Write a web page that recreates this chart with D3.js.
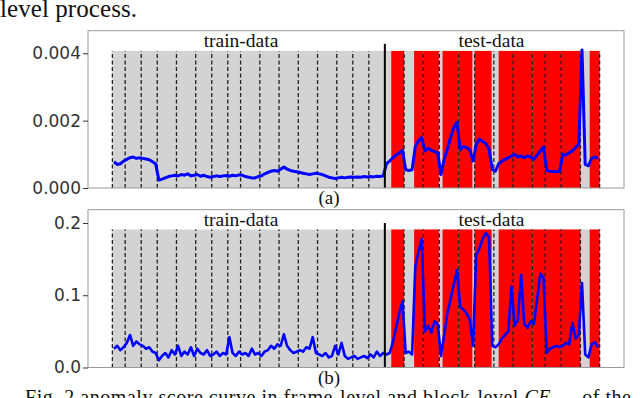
<!DOCTYPE html>
<meta charset='utf-8'>
<style>
    body { margin: 0; background: #fff; }
    .serif { font-family: 'Liberation Serif', 'Times New Roman', serif; fill: #111; }
    .tick text { font-family: 'DejaVu Sans', sans-serif; font-size: 17px; fill: #333; }
    .tick line { stroke: #333; }
    .domain { display: none; }
</style>

<svg width="640" height="398"></svg>
<script src="https://d3js.org/d3.v7.min.js"></script>

<script>

// UCSD Ped2: frames per video
var trainLengths = [120, 150, 150, 180, 180, 150, 150, 120, 180, 180, 180, 180, 180, 150, 150, 150];
var testLengths  = [180, 180, 150, 180, 150, 180, 180, 180, 120, 150, 180, 180];

// abnormal frames in each test video (first, last)
var anomalyRanges = [[61, 180], [95, 180], [1, 146], [31, 180], [1, 129], [1, 159],
                     [46, 180], [1, 180], [1, 120], [1, 150], [1, 180], [88, 180]];

// scores, one value per 30 frames
var binFrames = 30;

var frameScore = [
    0.00078, 0.00070, 0.00072, 0.00080,
    0.00085, 0.00090, 0.00092, 0.00088, 0.00090,
    0.00088, 0.00086, 0.00084, 0.00078, 0.00072,
    0.00024, 0.00026, 0.00030, 0.00034, 0.00036, 0.00038,
    0.00036, 0.00040, 0.00038, 0.00042, 0.00036, 0.00038,
    0.00040, 0.00035, 0.00038, 0.00034, 0.00032,
    0.00034, 0.00036, 0.00034, 0.00036, 0.00037,
    0.00035, 0.00038, 0.00036, 0.00039,
    0.00038, 0.00034, 0.00032, 0.00030, 0.00030, 0.00034,
    0.00036, 0.00042, 0.00046, 0.00050, 0.00052, 0.00050,
    0.00056, 0.00062, 0.00056, 0.00052, 0.00050, 0.00048,
    0.00046, 0.00044, 0.00042, 0.00040, 0.00042, 0.00044,
    0.00042, 0.00040, 0.00036, 0.00032, 0.00030, 0.00028,
    0.00030, 0.00032, 0.00030, 0.00032, 0.00033,
    0.00032, 0.00033, 0.00032, 0.00034, 0.00033,
    0.00034, 0.00033, 0.00035, 0.00034, 0.00036,
    // test
    0.00072, 0.00080, 0.00090, 0.00098, 0.00104, 0.00112,
    0.00054, 0.00052, 0.00054, 0.00123, 0.00140, 0.00150,
    0.00110, 0.00118, 0.00112, 0.00108, 0.00104,
    0.00040, 0.00085, 0.00115, 0.00150, 0.00180, 0.00195,
    0.00113, 0.00123, 0.00120, 0.00113, 0.00080,
    0.00130, 0.00145, 0.00138, 0.00132, 0.00115, 0.00055,
    0.00050, 0.00072, 0.00080, 0.00085, 0.00090, 0.00095,
    0.00100, 0.00092, 0.00095, 0.00090, 0.00095, 0.00092,
    0.00085, 0.00098, 0.00110, 0.00122,
    0.00052, 0.00050, 0.00049, 0.00048, 0.00050,
    0.00100, 0.00098, 0.00105, 0.00110, 0.00120, 0.00130,
    0.00410, 0.00070, 0.00066, 0.00088, 0.00092, 0.00088
];

var blockScore = [
    0.026, 0.030, 0.024, 0.028,
    0.034, 0.045, 0.030, 0.036, 0.032,
    0.030, 0.026, 0.028, 0.022, 0.020,
    0.010, 0.016, 0.020, 0.014, 0.024, 0.018,
    0.030, 0.016, 0.022, 0.018, 0.028, 0.016,
    0.026, 0.020, 0.018, 0.024, 0.016,
    0.018, 0.022, 0.016, 0.020, 0.018,
    0.042, 0.020, 0.016, 0.022,
    0.018, 0.020, 0.016, 0.026, 0.018, 0.020,
    0.016, 0.022, 0.024, 0.030, 0.026, 0.032,
    0.030, 0.046, 0.030, 0.024, 0.020, 0.022,
    0.024, 0.022, 0.028, 0.026, 0.042, 0.020,
    0.018, 0.016, 0.020, 0.014, 0.016, 0.030,
    0.018, 0.034, 0.016, 0.012, 0.014,
    0.016, 0.012, 0.014, 0.016, 0.013,
    0.018, 0.014, 0.022, 0.016, 0.020,
    // test
    0.018, 0.020, 0.035, 0.055, 0.075, 0.092,
    0.020, 0.022, 0.018, 0.140, 0.160, 0.178,
    0.050, 0.058, 0.048, 0.064, 0.060,
    0.016, 0.045, 0.075, 0.095, 0.115, 0.135,
    0.084, 0.080, 0.075, 0.066, 0.030,
    0.155, 0.165, 0.178, 0.186, 0.180, 0.030,
    0.028, 0.032, 0.040, 0.045, 0.050, 0.112,
    0.058, 0.066, 0.128, 0.060, 0.055, 0.064,
    0.060, 0.095, 0.130, 0.124,
    0.020, 0.026, 0.028, 0.030, 0.028,
    0.030, 0.034, 0.032, 0.062, 0.040, 0.045,
    0.117, 0.018, 0.014, 0.032, 0.035, 0.028
];

var frameTicks = [0, 0.002, 0.004];
var blockTicks = [0, 0.1, 0.2];

var svg = d3.select('svg');

var nTrain = d3.sum(trainLengths),
    nTotal = nTrain + d3.sum(testLengths);

var bounds = [0];
trainLengths.concat(testLengths).forEach(function(n) { bounds.push(bounds[bounds.length - 1] + n); });

var x = d3.scaleLinear()
    .domain([-0.05 * nTotal, 1.05 * nTotal])
    .range([88, 624]);

function panel(score, ticks, fmt, top, bottom, ymax, fillTop, splitTop, label, lw) {
    var y = d3.scaleLinear().domain([0, ymax]).range([bottom, top]);
    var g = svg.append('g');

    g.append('rect')
        .attr('x', x(0)).attr('width', x(nTotal) - x(0))
        .attr('y', y(fillTop)).attr('height', y(0) - y(fillTop))
        .attr('fill', '#d3d3d3');

    g.selectAll('.red')
        .data(anomalyRanges)
        .enter().append('rect')
        .attr('x', function(d, i) { return x(bounds[16 + i] + d[0] - 1); })
        .attr('width', function(d, i) { return x(bounds[16 + i] + d[1]) - x(bounds[16 + i] + d[0] - 1); })
        .attr('y', y(fillTop)).attr('height', y(0) - y(fillTop))
        .attr('fill', '#ff0000');

    g.selectAll('.vid')
        .data(bounds.filter(function(b) { return b !== nTrain; }))
        .enter().append('line')
        .attr('x1', function(d) { return x(d); }).attr('x2', function(d) { return x(d); })
        .attr('y1', y(0)).attr('y2', y(fillTop))
        .attr('stroke', '#222').attr('stroke-width', 1.3)
        .attr('stroke-dasharray', '4,2.5');

    var line = d3.line()
        .x(function(d, i) { return x(i * binFrames + binFrames / 2); })
        .y(function(d) { return y(d); });

    g.append('path')
        .datum(score)
        .attr('d', line)
        .attr('fill', 'none')
        .attr('stroke', '#0000ff')
        .attr('stroke-width', lw)
        .attr('stroke-linejoin', 'round');

    g.append('line')
        .attr('x1', x(nTrain)).attr('x2', x(nTrain))
        .attr('y1', y(0)).attr('y2', y(splitTop))
        .attr('stroke', '#000').attr('stroke-width', 2);

    g.append('rect')
        .attr('x', 88).attr('y', top)
        .attr('width', 536).attr('height', bottom - top)
        .attr('fill', 'none').attr('stroke', '#999').attr('stroke-width', 1);

    g.append('g')
        .attr('transform', 'translate(88,0)')
        .call(d3.axisLeft(y).tickValues(ticks).tickFormat(d3.format(fmt)).tickSize(5).tickPadding(2));

    g.append('text').attr('class', 'serif')
        .attr('x', 241).attr('y', top + 16)
        .attr('text-anchor', 'middle').attr('font-size', 19.5)
        .text('train-data');

    g.append('text').attr('class', 'serif')
        .attr('x', 491.5).attr('y', top + 16)
        .attr('text-anchor', 'middle').attr('font-size', 19.5)
        .text('test-data');

    svg.append('text').attr('class', 'serif')
        .attr('x', 329).attr('y', bottom + 16)
        .attr('text-anchor', 'middle').attr('font-size', 19)
        .text(label);
}

panel(frameScore, frameTicks, '.3f', 30.7, 188, 0.00467, 0.00407, 0.00428, '(a)', 3);
panel(blockScore, blockTicks, '.1f', 209.7, 367.5, 0.2184, 0.191, 0.2, '(b)', 2.6);

svg.append('text').attr('class', 'serif')
    .attr('x', 0).attr('y', 17)
    .attr('font-size', 25)
    .attr('textLength', 137)
    .text('level process.');

var cap = svg.append('text').attr('class', 'serif')
    .attr('x', 25).attr('y', 404)
    .attr('font-size', 20)
    .attr('textLength', 606);
cap.append('tspan').text('Fig. 2 anomaly score curve in frame-level and block-level ');
cap.append('tspan').attr('font-style', 'italic').text('CE');
cap.append('tspan').attr('font-size', 14).attr('dy', 4).text('max');
cap.append('tspan').attr('dy', -4).text(' of the');

</script>
